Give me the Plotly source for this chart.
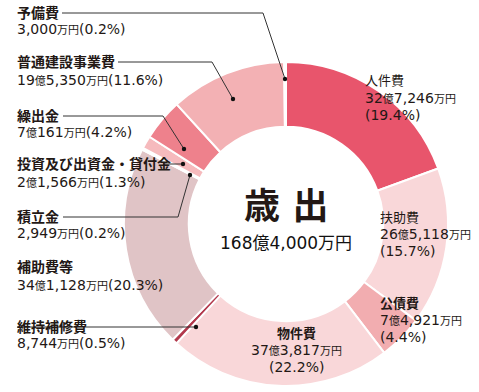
import plotly.graph_objects as go

# ---- data (万円) ----
categories = ["人件費", "扶助費", "公債費", "物件費", "維持補修費", "補助費等",
              "積立金", "投資及び出資金・貸付金", "繰出金", "普通建設事業費", "予備費"]
values = [327246, 265118, 74921, 373817, 8744, 341128, 2949, 21566, 70161, 195350, 3000]
colors = ["#E8556C", "#F9D7D9", "#F2ADB0", "#F9D7D9", "#B2384C", "#E0C4C6",
          "#E9A3AA", "#F6BABD", "#EE818C", "#F3B1B4", "#FBE3E5"]
center_title = "歳 出"

W, H = 479, 392
total = sum(values)

def px(x):
    return x / W

def py(y):
    return 1 - y / H

SM = "<span style='font-size:11px'>{}</span>"

def fmt_amount(v, small=True):
    oku, man = divmod(v, 10000)
    s = ""
    if oku:
        s += str(oku) + (SM.format("億") if small else "億")
        s += f"{man:,}"
    else:
        s += f"{man:,}"
    s += SM.format("万円") if small else "万円"
    return s

def pct(v):
    return f"({v / total * 100:.1f}%)"

fig = go.Figure()
fig.add_trace(go.Pie(
    labels=categories, values=values, sort=False, direction="clockwise",
    rotation=0, hole=0.6, textinfo="none",
    marker=dict(colors=colors, line=dict(color="white", width=2)),
    domain=dict(x=[px(286 - 162), px(286 + 162)], y=[py(224 + 162), py(224 - 162)]),
    showlegend=False, hovertemplate="%{label}<br>%{value:,}万円<extra></extra>",
))

TXT = "#231815"
FAM = "DejaVu Sans, Noto Sans CJK JP"
ann = []

def add(x, y, text, size=14, anchor="left", bold=False):
    if bold:
        text = f"<b>{text}</b>"
    ann.append(dict(x=px(x), y=py(y), xref="paper", yref="paper", text=text,
                    showarrow=False, xanchor=anchor, yanchor="middle",
                    font=dict(family=FAM, size=size, color=TXT)))

idx = {c: i for i, c in enumerate(categories)}

# left labels: (category, title y, value y)
left = [("予備費", 13, 29), ("普通建設事業費", 62, 80), ("繰出金", 116, 132),
        ("投資及び出資金・貸付金", 164, 182), ("積立金", 217, 233),
        ("補助費等", 267, 285), ("維持補修費", 327, 343)]
for c, ty, vy in left:
    v = values[idx[c]]
    add(15, ty, c, bold=True)
    add(15, vy, fmt_amount(v) + pct(v))

# right labels inside ring
right = [("人件費", 363, 81, "left", False), ("扶助費", 378, 217, "left", False),
         ("公債費", 378, 303, "left", True), ("物件費", 296, 333, "center", True)]
for c, x, y0, anc, b in right:
    v = values[idx[c]]
    add(x, y0, c, size=13, anchor=anc, bold=b)
    add(x, y0 + 17, fmt_amount(v), size=14, anchor=anc)
    add(x, y0 + 34, pct(v), size=14, anchor=anc)

# center
add(286, 207, center_title, size=36, anchor="center", bold=True)
ann.append(dict(x=px(286), y=py(243), xref="paper", yref="paper",
                text=fmt_amount(total, small=False), showarrow=False,
                xanchor="center", yanchor="middle",
                font=dict(family=FAM, size=17, color="#111")))

# leader lines (pixel paths) and dots
leaders = [
    [(62, 13), (263, 13), (285, 79)],
    [(118, 62), (212, 62), (233, 99)],
    [(63, 116), (163, 116), (184, 149)],
    [(163, 164), (183, 164)],
    [(63, 217), (178, 217), (190, 175)],
    [(17, 327), (196, 327)],
]
shapes = []
for pts in leaders:
    for (x0, y0), (x1, y1) in zip(pts[:-1], pts[1:]):
        shapes.append(dict(type="line", xref="paper", yref="paper",
                           x0=px(x0), y0=py(y0), x1=px(x1), y1=py(y1),
                           line=dict(color="#333333", width=1)))
    dx, dy = pts[-1]
    r = 2.2
    shapes.append(dict(type="circle", xref="paper", yref="paper",
                       x0=px(dx - r), x1=px(dx + r), y0=py(dy + r), y1=py(dy - r),
                       fillcolor="#111", line=dict(width=0)))

fig.update_layout(width=W, height=H, margin=dict(l=0, r=0, t=0, b=0),
                  paper_bgcolor="white", plot_bgcolor="white",
                  annotations=ann, shapes=shapes)
fig.write_html("out.html", config={"displayModeBar": False},
               post_script="document.body.style.margin='0';document.body.style.overflow='hidden';")
